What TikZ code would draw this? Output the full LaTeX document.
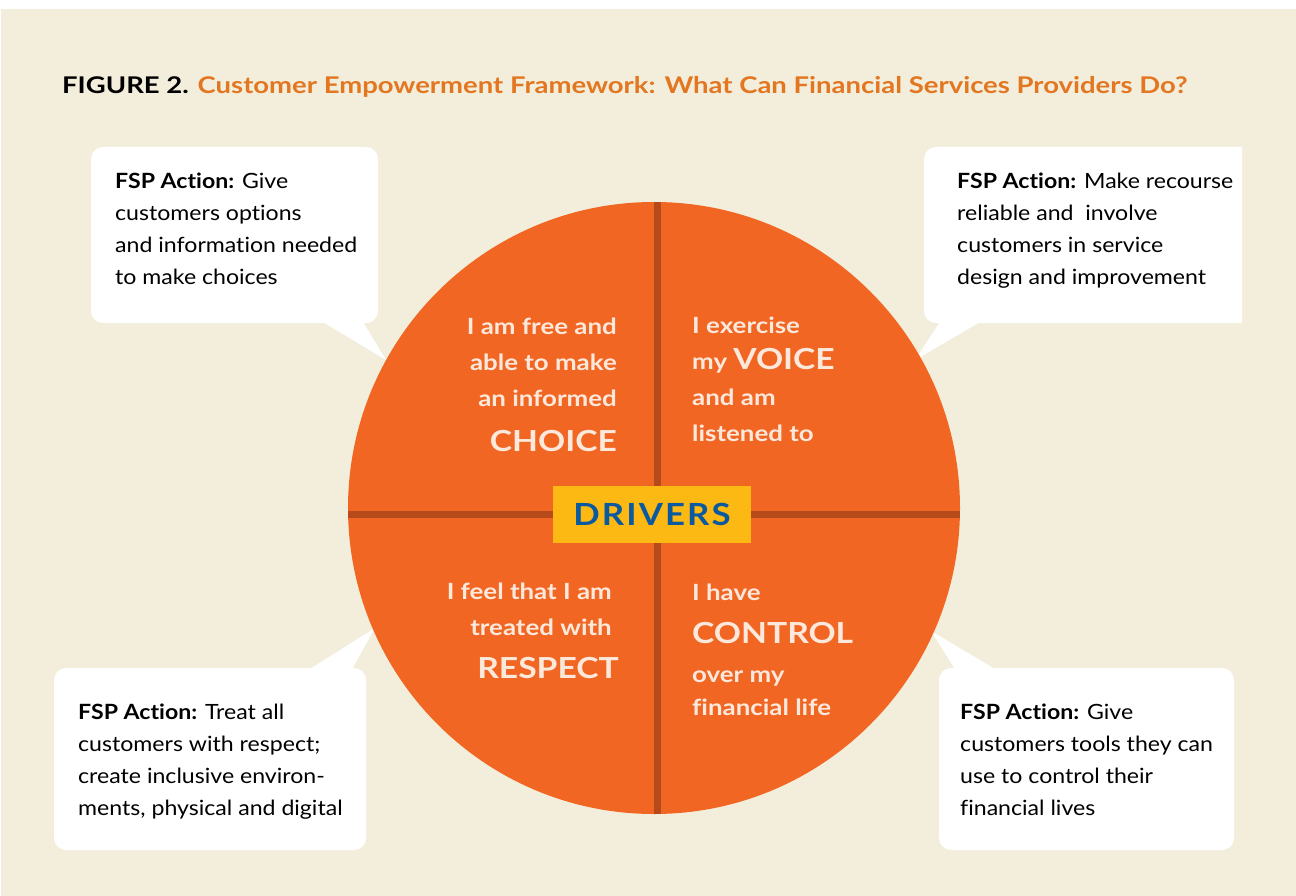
\documentclass[tikz,border=0pt]{standalone}
\usepackage{fontspec}
\setmainfont{Lato}
\newfontfamily\cfam{Lato}[FakeStretch=1.1,Ligatures=NoCommon]
\newfontfamily\qfam{Lato}[FakeStretch=1.16,Ligatures=NoCommon]
\newfontfamily\dfam{Lato}[FakeStretch=1.14,LetterSpace=7]
\usepackage{graphicx}
\definecolor{beige}{HTML}{F3EEDB}
\definecolor{disc}{HTML}{F26624}
\definecolor{divline}{HTML}{B74A1A}
\definecolor{cream}{HTML}{FDE9DC}
\definecolor{dyellow}{HTML}{FDB913}
\definecolor{dblue}{HTML}{0B599E}
\definecolor{torange}{HTML}{E37620}
\begin{document}
\begin{tikzpicture}[x=1pt,y=-1pt,
  balloon/.style={fill=white},
  ctext/.style={anchor=base west,inner sep=0pt},
  qleft/.style={anchor=base west,inner sep=0pt,text=cream},
  qright/.style={anchor=base east,inner sep=0pt,text=cream}]
\newcommand{\cfont}{\cfam\fontsize{21}{32}\selectfont}
\newcommand{\qfont}[1]{\qfam\bfseries\fontsize{22.3}{#1}\selectfont}
\newcommand{\bigw}[1]{{\fontsize{29}{29}\selectfont #1}}
\useasboundingbox (0,0) rectangle (1296,896);
\fill[white] (0,0) rectangle (1296,896);
\fill[beige] (1,9) rectangle (1296,896);
% title
\node[anchor=base west,inner sep=0pt] (title) at (62,94)
  {\resizebox{1125pt}{\height}{\bfseries\fontsize{23}{23}\selectfont FIGURE 2. \textcolor{torange}{Customer Empowerment Framework: What Can Financial Services Providers Do?}}};
% callout balloons
\fill[balloon,rounded corners=12pt] (91,147) rectangle (378,323);
\fill[balloon] (323,322) -- (363,322) -- (386,360) -- cycle;
\begin{scope}
  \clip (0,0) rectangle (1242,896);
  \fill[balloon,rounded corners=12pt] (924,147) rectangle (1262,323);
\end{scope}
\fill[balloon] (940,322) -- (980,322) -- (915,360) -- cycle;
\fill[balloon,rounded corners=12pt] (54,668) rectangle (366,850);
\fill[balloon] (310,669) -- (352,669) -- (375,628) -- cycle;
\fill[balloon,rounded corners=12pt] (939,668) rectangle (1234,850);
\fill[balloon] (955,669) -- (995,669) -- (931,631) -- cycle;
% disc
\fill[disc] (654,508) circle (306);
\begin{scope}
  \clip (654,508) circle (306);
  \draw[divline,line width=7pt] (657.5,190) -- (657.5,830);
  \draw[divline,line width=7pt] (340,514) -- (970,514);
\end{scope}
\node[fill=dyellow,text=dblue,minimum width=198pt,minimum height=57pt,inner sep=0pt,
  font=\dfam\bfseries\fontsize{30.5}{30.5}\selectfont] (drivers) at (652,514.5) {DRIVERS};
% quadrant texts
\node[qright] (choice) at (617,334) {\parbox[t]{220pt}{\raggedleft\qfont{36.5}I am free and\\able to make\\an informed\\[7.5pt]\bigw{CHOICE}}};
\node[qleft] (voice) at (692,333) {\parbox[t]{220pt}{\raggedright\qfont{36.3}I exercise\\my \bigw{VOICE}\\and am\\listened to}};
\node[qright] (respect) at (612,599) {\parbox[t]{220pt}{\raggedleft\qfont{36}I feel that I am\\treated with\\[7pt]\bigw{RESPECT}\kern-7pt}};
\node[qleft] (control) at (692,600) {\parbox[t]{220pt}{\raggedright\qfont{36}I have\\[7pt]\bigw{CONTROL}\\[3pt]over my\\[-3pt]financial life}};
% callout texts
\node[ctext] (tl) at (115,189) {\parbox[t]{300pt}{\raggedright\cfont\textbf{FSP Action:} Give\\customers options\\and information needed\\to make choices}};
\node[ctext] (tr) at (957,189) {\parbox[t]{300pt}{\raggedright\cfont\textbf{FSP Action:} Make recourse\\reliable and\ \ involve\\customers in service\\design and improvement}};
\node[ctext] (bl) at (78,719) {\parbox[t]{300pt}{\raggedright\cfont\textbf{FSP Action:} Treat all\\customers with respect;\\create inclusive environ-\\ments, physical and digital}};
\node[ctext] (br) at (960,719) {\parbox[t]{300pt}{\raggedright\cfont\textbf{FSP Action:} Give\\customers tools they can\\use to control their\\financial lives}};
\end{tikzpicture}
\end{document}
